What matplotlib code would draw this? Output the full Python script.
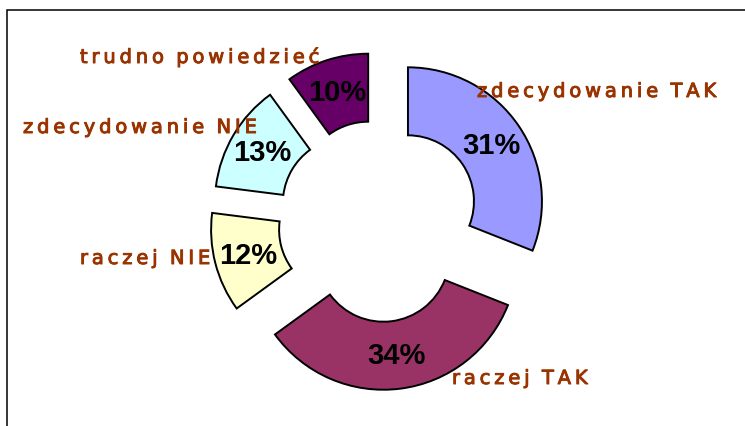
import matplotlib
matplotlib.use("Agg")
import matplotlib.pyplot as plt
import matplotlib.patheffects as pe
from matplotlib.patches import Rectangle

# Survey answers, clockwise from 12 o'clock
categories = ["zdecydowanie TAK", "raczej TAK", "raczej NIE",
              "zdecydowanie NIE", "trudno powiedzieć"]
shares = [31, 34, 12, 13, 10]
colors = ["#9999FF", "#993366", "#FFFFCC", "#CCFFFF", "#660066"]

W, H = 745, 427
fig = plt.figure(figsize=(W / 100, H / 100), dpi=100)
ax = fig.add_axes([0, 0, 1, 1])

# axes in pixel units (y up), so the donut can be sized like the original
cx, cy = 379, H - 222
r_out, ring = 134, 68

ax.pie(
    shares,
    colors=colors,
    center=(cx, cy),
    radius=r_out,
    startangle=90,
    counterclock=False,
    explode=[35] * len(shares),
    autopct="%.0f%%",
    pctdistance=0.75,
    wedgeprops=dict(width=ring, edgecolor="black", linewidth=1.4),
    textprops=dict(family="Liberation Sans", fontweight="bold",
                   fontsize=21, color="black"),
)

ax.set_xlim(0, W)
ax.set_ylim(0, H)
ax.set_aspect("equal")
ax.axis("off")


def spaced(s):
    # the original labels are letter-spaced
    return "  ".join("\u2009".join(w) for w in s.split(" "))


# (left x, baseline y) in pixels from the top-left corner
label_pos = {
    "zdecydowanie TAK": (477, 98),
    "raczej TAK": (452, 385),
    "raczej NIE": (80, 265),
    "zdecydowanie NIE": (23, 134),
    "trudno powiedzieć": (80, 64),
}
label_color = "#993300"
for name in categories:
    x, y = label_pos[name]
    ax.text(x, H - y, spaced(name), ha="left", va="baseline",
            fontsize=14, color=label_color, family="DejaVu Sans",
            path_effects=[pe.withStroke(linewidth=0.7, foreground=label_color)])

# chart frame (only left and top edges are visible in the original)
ax.add_patch(Rectangle((7, -20), 800, H - 11 + 20, fill=False,
                       edgecolor="black", linewidth=1.1, clip_on=True))

fig.savefig("out.png", dpi=100)
